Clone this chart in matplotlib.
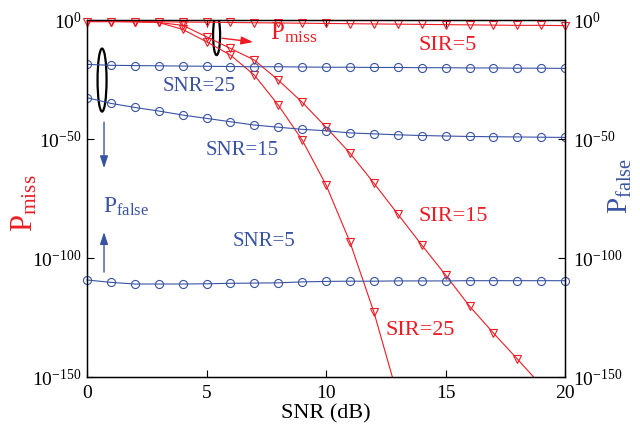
import numpy as np
import matplotlib
matplotlib.use("Agg")
import matplotlib.pyplot as plt
from matplotlib.patches import Ellipse
from matplotlib.ticker import FixedLocator, FixedFormatter, NullLocator

plt.rcParams['font.family'] = ['Liberation Serif', 'DejaVu Serif']
plt.rcParams['mathtext.fontset'] = 'custom'
plt.rcParams['mathtext.rm'] = 'Liberation Serif'
plt.rcParams['mathtext.it'] = 'Liberation Serif:italic'

RED = '#ED1C24'
BLUE = '#3953A4'

snr = np.arange(0, 21)

# log10 of probabilities
sir5_log = [-0.6, -0.6, -0.6, -0.7, -0.8, -0.9, -1.0, -1.1, -1.2, -1.3, -1.4,
            -1.5, -1.6, -1.7, -1.8, -1.9, -2.0, -2.1, -2.2, -2.2, -2.3]
sir15_log = [-0.6, -0.6, -0.7, -1.0, -2.2, -7.0, -11.9, -16.8, -25.2, -34.5, -45.0,
             -55.9, -68.5, -81.5, -94.5, -107.1, -120.2, -131.5, -142.4, -153.5, -164.0]
sir25_log = [-0.6, -0.6, -0.7, -1.0, -3.9, -9.1, -14.7, -23.1, -35.7, -50.4, -69.3,
             -93.3, -122.7, -158.0]
snr25_log = [-18.6, -19.0, -19.1, -19.2, -19.3, -19.4, -19.5, -19.6, -19.6, -19.7, -19.8,
             -19.8, -19.9, -19.9, -20.0, -20.0, -20.1, -20.1, -20.2, -20.2, -20.3]
snr15_log = [-32.6, -35.0, -36.7, -38.2, -39.9, -41.3, -42.7, -44.1, -45.0, -45.9, -46.5,
             -47.4, -47.8, -48.2, -48.5, -48.7, -48.9, -49.0, -49.1, -49.2, -49.3]
snr5_log = [-109.2, -110.2, -110.9, -110.9, -110.9, -110.8, -110.6, -110.5, -110.4, -110.0, -109.8,
            -109.7, -109.7, -109.6, -109.6, -109.6, -109.5, -109.5, -109.5, -109.5, -109.5]

ytick_vals = [1e-150, 1e-100, 1e-50, 1e0]
ytick_labels = [r'$\mathregular{10^{-150}}$', r'$\mathregular{10^{-100}}$',
                r'$\mathregular{10^{-50}}$', r'$\mathregular{10^{0}}$']
xtick_vals = [0, 5, 10, 15, 20]
xtick_labels = ['0', '5', '10', '15', '20']

fig = plt.figure(figsize=(6.4, 4.28), dpi=100)
ax = fig.add_axes([0.136, 0.119, 0.747, 0.834])

lw = 0.8
mk = dict(markersize=5.8, markerfacecolor='none', markeredgewidth=0.8)
ax.semilogy(snr, 10.0 ** np.array(sir5_log), color=RED, marker='v', lw=lw,
            clip_on=False, zorder=3, **mk)
ax.semilogy(snr, 10.0 ** np.array(sir15_log), color=RED, marker='v', lw=lw, **mk)
ax.semilogy(snr[:len(sir25_log)], 10.0 ** np.array(sir25_log), color=RED, marker='v', lw=lw, **mk)
ax.semilogy(snr, 10.0 ** np.array(snr25_log), color=BLUE, marker='o', lw=lw, **mk)
ax.semilogy(snr, 10.0 ** np.array(snr15_log), color=BLUE, marker='o', lw=lw, **mk)
ax.semilogy(snr, 10.0 ** np.array(snr5_log), color=BLUE, marker='o', lw=lw,
            clip_on=False, **mk)

ax.set_xlim(0, 20)
ax.set_ylim(1e-150, 1e0)
ax.xaxis.set_major_locator(FixedLocator(xtick_vals))
ax.xaxis.set_major_formatter(FixedFormatter(xtick_labels))
ax.yaxis.set_major_locator(FixedLocator(ytick_vals))
ax.yaxis.set_major_formatter(FixedFormatter(ytick_labels))
ax.yaxis.set_minor_locator(NullLocator())
ax.tick_params(axis='y', direction='in', length=5, width=0.8, labelsize=14, pad=4)
ax.tick_params(axis='x', direction='in', length=5, width=0.8, labelsize=14, top=True, pad=6)
for s in ax.spines.values():
    s.set_linewidth(1.0)

ax2 = ax.twinx()
ax2.set_yscale('log')
ax2.set_ylim(1e-150, 1e0)
ax2.yaxis.set_major_locator(FixedLocator(ytick_vals))
ax2.yaxis.set_major_formatter(FixedFormatter(ytick_labels))
ax2.yaxis.set_minor_locator(NullLocator())
ax2.tick_params(direction='in', length=5, width=0.8, labelsize=14, pad=6)

# axis labels
fig.text(326 / 640, 1 - 418 / 428, 'SNR (dB)', ha='center', va='baseline', fontsize=16)
fig.text(25 / 640, 1 - 203 / 428, r'$\mathregular{P_{miss}}$', rotation=90,
         ha='center', va='center', fontsize=22, color=RED)
fig.text(620 / 640, 1 - 186 / 428, r'$\mathregular{P_{false}}$', rotation=90,
         ha='center', va='center', fontsize=21, color=BLUE)

# curve annotations
ax.text(3.18, 10 ** -27.7, 'SNR=25', color=BLUE, fontsize=15, ha='left', va='center')
ax.text(4.94, 10 ** -54.6, 'SNR=15', color=BLUE, fontsize=15, ha='left', va='center')
ax.text(6.07, 10 ** -92.9, 'SNR=5', color=BLUE, fontsize=15, ha='left', va='center')
ax.text(13.85, 10 ** -10.5, 'SIR=5', color=RED, fontsize=16, ha='left', va='center')
ax.text(13.85, 10 ** -82.4, 'SIR=15', color=RED, fontsize=16, ha='left', va='center')
ax.text(12.5, 10 ** -130.3, 'SIR=25', color=RED, fontsize=16, ha='left', va='center')

ax.text(7.66, 10 ** -8.0, r'$\mathregular{P_{miss}}$', color=RED, fontsize=18,
        ha='left', va='baseline')
ax.text(0.67, 10 ** -81.1, r'$\mathregular{P_{false}}$', color=BLUE, fontsize=17,
        ha='left', va='baseline')

head = '-|>,head_width=0.2,head_length=0.6'
ax.annotate('', xy=(6.95, 10 ** -9.2), xytext=(5.65, 10 ** -7.6),
            arrowprops=dict(arrowstyle=head, color=RED,
                            lw=1.0, mutation_scale=12, shrinkA=0, shrinkB=0))
ax.annotate('', xy=(0.71, 10 ** -62.2), xytext=(0.71, 10 ** -42.9),
            arrowprops=dict(arrowstyle=head, color=BLUE,
                            lw=1.0, mutation_scale=12, shrinkA=0, shrinkB=0))
ax.annotate('', xy=(0.71, 10 ** -89.1), xytext=(0.71, 10 ** -105.9),
            arrowprops=dict(arrowstyle=head, color=BLUE,
                            lw=1.0, mutation_scale=12, shrinkA=0, shrinkB=0))

ax.add_patch(Ellipse((0.271, 0.958), 7 / 478, 40 / 357, transform=ax.transAxes,
                     fill=False, edgecolor='black', lw=1.6))
ax.add_patch(Ellipse((0.0314, 0.832), 9 / 478, 63 / 357, transform=ax.transAxes,
                     fill=False, edgecolor='black', lw=1.6))

fig.savefig('out.png', dpi=100)
